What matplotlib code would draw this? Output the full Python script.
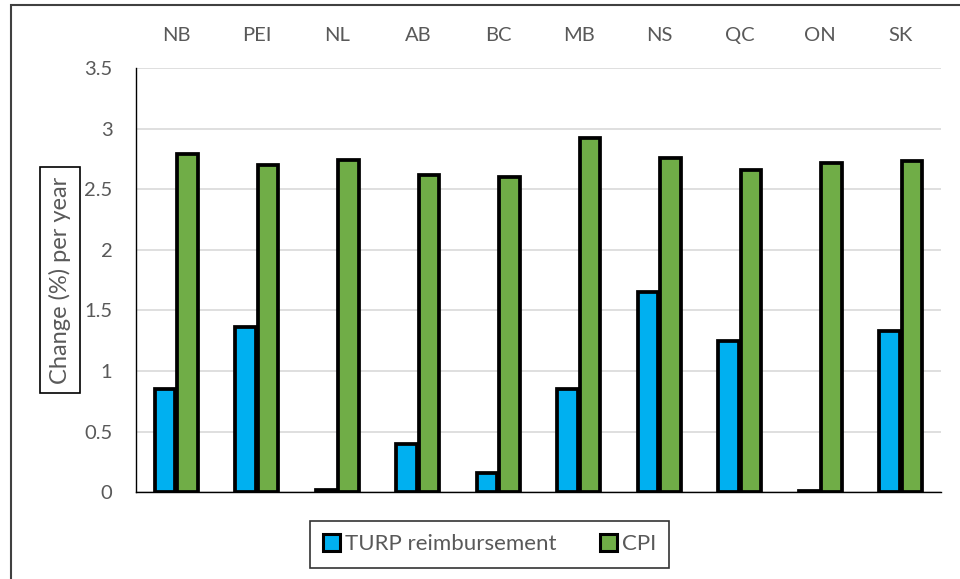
import numpy as np
import matplotlib.pyplot as plt
from matplotlib.patches import Rectangle

plt.rcParams['font.family'] = ['Lato', 'DejaVu Sans']

# data
provinces = ['NB', 'PEI', 'NL', 'AB', 'BC', 'MB', 'NS', 'QC', 'ON', 'SK']
turp = [0.85, 1.36, 0.02, 0.40, 0.16, 0.85, 1.65, 1.25, 0.01, 1.33]
cpi = [2.79, 2.70, 2.74, 2.62, 2.60, 2.92, 2.76, 2.66, 2.72, 2.73]

grey = '#595959'
x = np.arange(len(provinces))
w = 0.25

fig = plt.figure(figsize=(9.6, 5.79), dpi=100)
ax = fig.add_axes([0.1417, 0.150, 0.8385, 0.7326])

ax.bar(x - 0.14, turp, w, color='#00B0F0', edgecolor='black', linewidth=2.7,
       label='TURP reimbursement', zorder=3)
ax.bar(x + 0.14, cpi, w, color='#70AD47', edgecolor='black', linewidth=2.7,
       label='CPI', zorder=3)

ax.set_xlim(-0.5, len(provinces) - 0.5)
ax.set_ylim(0, 3.5)
ax.set_yticks(np.arange(0, 3.51, 0.5))
ax.set_yticklabels(['0', '0.5', '1', '1.5', '2', '2.5', '3', '3.5'])
ax.grid(axis='y', color='#D9D9D9', linewidth=1.2, zorder=0)

ax.xaxis.tick_top()
ax.set_xticks(x)
ax.set_xticklabels(provinces)
ax.tick_params(axis='x', length=0, pad=17, labelsize=14.5, labelcolor=grey)
ax.tick_params(axis='y', length=0, pad=17, labelsize=14.5, labelcolor=grey)

for s in ['top', 'right']:
    ax.spines[s].set_visible(False)
ax.spines['left'].set_color('black')
ax.spines['bottom'].set_color('black')
ax.spines['left'].set_linewidth(1.0)
ax.spines['bottom'].set_linewidth(1.0)

fig.text(60 / 960, 0.516, 'Change (%) per year', rotation=90, ha='center', va='center',
         fontsize=17, color=grey,
         bbox=dict(boxstyle='square,pad=0.4', fc='white', ec='black', lw=1.2))

leg = fig.legend(loc='center', bbox_to_anchor=(0.51, 0.06), ncol=2, fontsize=16,
                 frameon=True, fancybox=False, edgecolor='black', handlelength=0.75,
                 handleheight=0.75, handletextpad=0.2, columnspacing=2.0,
                 borderpad=0.6, labelcolor=grey)
leg.get_frame().set_linewidth(1.2)
for h in leg.legend_handles:
    h.set_linewidth(2.2)

# outer frame of the chart area
fig.patches.append(Rectangle((11 / 960, -0.1), 1.2, 1 - 5 / 579 + 0.1,
                             transform=fig.transFigure, fill=False,
                             edgecolor='#404040', linewidth=1.5))

fig.savefig('out.png', dpi=100)
